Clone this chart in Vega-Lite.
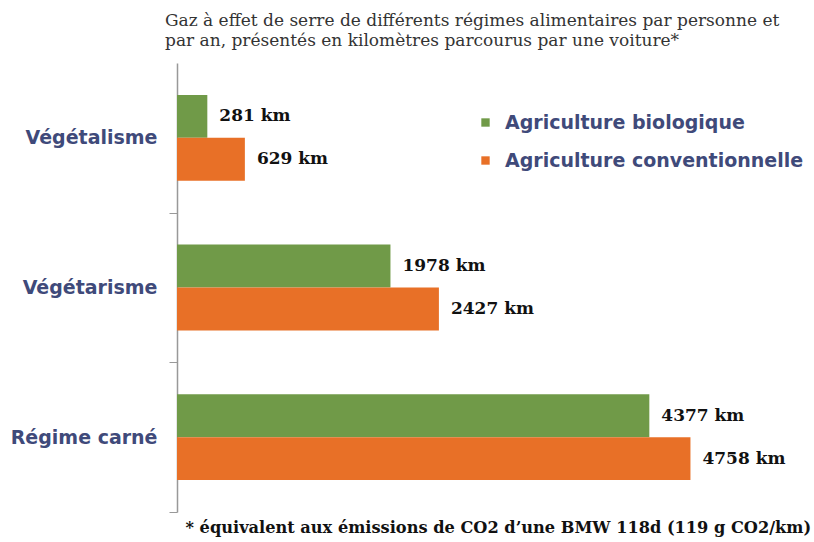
{
  "$schema": "https://vega.github.io/schema/vega-lite/v6.json",
  "autosize": "none",
  "width": 600,
  "height": 449,
  "padding": {"left": 177, "top": 63, "right": 37, "bottom": 30},
  "background": "white",
  "title": {
    "text": ["Gaz à effet de serre de différents régimes alimentaires par personne et", "par an, présentés en kilomètres parcourus par une voiture*"],
    "anchor": "start",
    "frame": "group",
    "dx": -12,
    "offset": 13,
    "font": "DejaVu Serif",
    "fontSize": 17,
    "fontWeight": "normal",
    "color": "#333333",
    "lineHeight": 20
  },
  "data": {
    "values": [
      {"regime": "Végétalisme", "type": "Agriculture biologique", "km": 281, "label": "281 km"},
      {"regime": "Végétalisme", "type": "Agriculture conventionnelle", "km": 629, "label": "629 km"},
      {"regime": "Végétarisme", "type": "Agriculture biologique", "km": 1978, "label": "1978 km"},
      {"regime": "Végétarisme", "type": "Agriculture conventionnelle", "km": 2427, "label": "2427 km"},
      {"regime": "Régime carné", "type": "Agriculture biologique", "km": 4377, "label": "4377 km"},
      {"regime": "Régime carné", "type": "Agriculture conventionnelle", "km": 4758, "label": "4758 km"}
    ]
  },
  "encoding": {
    "y": {
      "field": "regime",
      "type": "nominal",
      "sort": ["Végétalisme", "Végétarisme", "Régime carné"],
      "scale": {"paddingInner": 0.427, "paddingOuter": 0.2135},
      "axis": {
        "title": null,
        "tickOffset": 74.8,
        "labelOffset": -74.8,
        "tickSize": 8,
        "tickColor": "#999999",
        "domainColor": "#999999",
        "domainWidth": 1.5,
        "labelFont": "DejaVu Sans",
        "labelFontSize": 19,
        "labelFontWeight": "bold",
        "labelColor": "#3f4a7a",
        "labelPadding": 12,
        "labelLimit": 0,
        "grid": false
      }
    },
    "yOffset": {
      "field": "type",
      "type": "nominal",
      "sort": ["Agriculture biologique", "Agriculture conventionnelle"]
    },
    "x": {
      "field": "km",
      "type": "quantitative",
      "scale": {"domain": [0, 5560], "nice": false},
      "axis": {
        "domain": false,
        "ticks": false,
        "labels": false,
        "grid": false,
        "title": "* équivalent aux émissions de CO2 d’une BMW 118d (119 g CO2/km)",
        "titleAnchor": "start",
        "titleAlign": "left",
        "titleX": 8,
        "titleY": 15,
        "titleBaseline": "middle",
        "titleFont": "DejaVu Serif",
        "titleFontSize": 16.2,
        "titleFontWeight": "bold",
        "titleColor": "#111111",
        "titleLimit": 0
      }
    }
  },
  "layer": [
    {
      "mark": {"type": "bar"},
      "encoding": {
        "color": {
          "field": "type",
          "type": "nominal",
          "sort": ["Agriculture biologique", "Agriculture conventionnelle"],
          "scale": {"domain": ["Agriculture biologique", "Agriculture conventionnelle"], "range": ["#709a48", "#e87027"]},
          "legend": {
            "orient": "none",
            "legendX": 299,
            "legendY": 50,
            "title": null,
            "symbolType": "square",
            "symbolSize": 70,
            "symbolStrokeWidth": 0,
            "labelFont": "DejaVu Sans",
            "labelFontSize": 19,
            "labelFontWeight": "bold",
            "labelColor": "#3f4a7a",
            "labelOffset": 10,
            "labelLimit": 0,
            "rowPadding": 18
          }
        }
      }
    },
    {
      "mark": {"type": "text", "align": "left", "baseline": "middle", "dx": 12, "font": "DejaVu Serif", "fontSize": 17, "fontWeight": "bold", "color": "#111111"},
      "encoding": {
        "text": {"field": "label", "type": "nominal"}
      }
    }
  ],
  "config": {"view": {"stroke": null}}
}
